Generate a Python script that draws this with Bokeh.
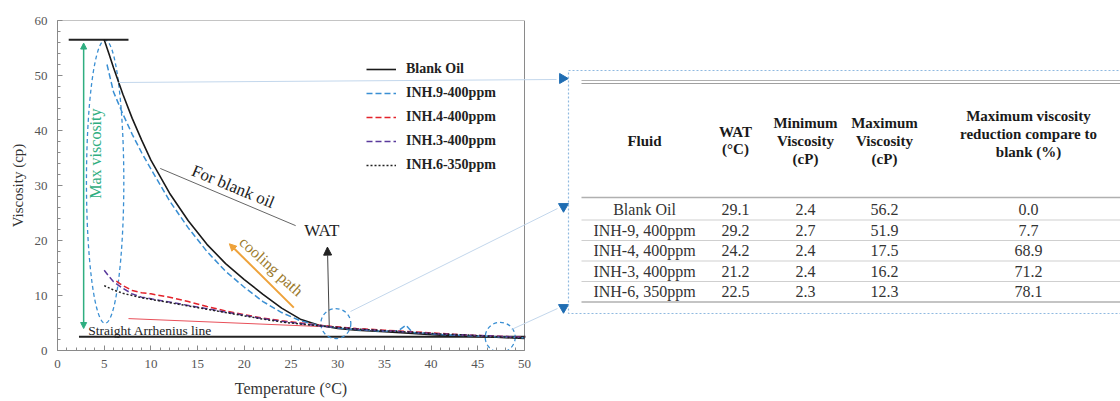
from bokeh.plotting import figure
from bokeh.models import Range1d, LinearAxis, FixedTicker, Legend, LegendItem, Arrow, NormalHead
from bokeh.core.properties import value
from bokeh.embed import file_html
from bokeh.resources import INLINE

SERIF = "Liberation Serif"

# ---------------- curve data ----------------
blank_t = [5, 5.5, 6, 7, 8, 9, 10, 12, 14, 16, 18, 20, 22, 24, 26, 28, 30, 32, 35, 38, 41, 44, 47, 50]
blank_v = [56.5, 54.0, 51.4, 46.6, 42.2, 38.3, 34.6, 28.6, 23.6, 19.3, 15.8, 12.9, 10.2, 7.7, 5.7, 4.6, 4.0, 3.7, 3.4, 3.1, 2.8, 2.6, 2.4, 2.2]

inh9_t = [5.3, 6, 7, 8, 9, 10, 12, 14, 16, 18, 20, 22, 24, 26, 28, 30, 32, 35, 36.5, 37.3, 38, 41, 44, 47, 50]
inh9_v = [52.0, 47.0, 43.0, 39.3, 36.0, 33.0, 27.2, 22.3, 18.0, 14.4, 11.5, 8.9, 6.9, 5.4, 4.5, 4.1, 3.8, 3.5, 3.6, 4.6, 3.3, 2.9, 2.7, 2.5, 2.3]

inh4_t = [6.3, 7, 8, 9, 10, 12, 14, 16, 18, 20, 22, 24, 26, 28, 30, 32, 35, 38, 41, 44, 47, 50]
inh4_v = [12.6, 11.8, 10.9, 10.5, 10.3, 9.7, 8.9, 8.0, 7.2, 6.5, 5.9, 5.4, 5.0, 4.6, 4.3, 4.0, 3.7, 3.4, 3.1, 2.8, 2.6, 2.4]

inh3_t = [5, 5.5, 6, 7, 8, 9, 10, 12, 14, 16, 18, 20, 22, 24, 26, 28, 30, 32, 35, 38, 41, 44, 47, 50]
inh3_v = [14.6, 13.5, 12.5, 11.3, 10.3, 9.7, 9.4, 8.8, 8.2, 7.6, 7.0, 6.4, 5.8, 5.3, 4.9, 4.5, 4.2, 3.9, 3.6, 3.3, 3.0, 2.8, 2.6, 2.4]

inh6_t = [5, 6, 7, 8, 9, 10, 12, 14, 16, 18, 20, 22, 24, 26, 28, 30, 32, 35, 38, 41, 44, 47, 50]
inh6_v = [11.8, 11.0, 10.4, 10.0, 9.6, 9.3, 8.7, 8.1, 7.5, 6.9, 6.3, 5.7, 5.2, 4.8, 4.5, 4.2, 3.9, 3.6, 3.3, 3.0, 2.8, 2.5, 2.3]

series_names = ["Blank Oil", "INH.9-400ppm", "INH.4-400ppm", "INH.3-400ppm", "INH.6-350ppm"]

x_ticks = [0, 5, 10, 15, 20, 25, 30, 35, 40, 45, 50]
y_ticks = [0, 10, 20, 30, 40, 50, 60]

# annotation values
max_visc_level = 56.5
arrhenius_level = 2.5

# ---------------- table data ----------------
tbl_fluid = ["Blank Oil", "INH-9, 400ppm", "INH-4, 400ppm", "INH-3, 400ppm", "INH-6, 350ppm"]
tbl_wat = [29.1, 29.2, 24.2, 21.2, 22.5]
tbl_min = [2.4, 2.7, 2.4, 2.4, 2.3]
tbl_max = [56.2, 51.9, 17.5, 16.2, 12.3]
tbl_red = [0.0, 7.7, 68.9, 71.2, 78.1]
tbl_headers = [["Fluid"], ["WAT", "(°C)"], ["Minimum", "Viscosity", "(cP)"],
               ["Maximum", "Viscosity", "(cP)"],
               ["Maximum viscosity", "reduction compare to", "blank (%)"]]

# ---------------- layout ----------------
W, H = 1120, 400
FL, FR, FT, FB = 57, 1120, 20, 350          # frame in page pixels
X50 = 524                                    # page x of temperature 50
x_end = 50.0 * (FR - FL) / (X50 - FL)

p = figure(width=W, height=H, x_range=Range1d(0, x_end), y_range=Range1d(0, 60),
           output_backend="svg", toolbar_location=None,
           min_border_left=FL, min_border_right=0, min_border_top=FT,
           min_border_bottom=H - FB)
p.outline_line_color = None
p.grid.visible = False
p.background_fill_color = "white"
p.extra_x_ranges = {"px": Range1d(FL, FR)}
p.extra_y_ranges = {"px": Range1d(FB, FT)}

AX = "#8a8a8a"
xa = p.xaxis[0]
xa.ticker = FixedTicker(ticks=x_ticks, minor_ticks=list(range(0, 51)))
xa.bounds = (0, 50)
ya = p.yaxis[0]
ya.ticker = FixedTicker(ticks=y_ticks, minor_ticks=list(range(0, 61, 2)))
ya.bounds = (0, 60)
for ax in (xa, ya):
    ax.axis_line_color = AX
    ax.major_tick_line_color = AX
    ax.minor_tick_line_color = AX
    ax.major_tick_in = 5
    ax.major_tick_out = 0
    ax.minor_tick_in = 3
    ax.minor_tick_out = 0
    ax.major_label_text_font = SERIF
    ax.major_label_text_font_size = "13px"
    ax.major_label_text_color = "#555555"
xa.major_label_standoff = 9
ya.major_label_standoff = 10
ya.axis_label = "Viscosity (cp)"
ya.axis_label_text_font = SERIF
ya.axis_label_text_font_style = "normal"
ya.axis_label_text_font_size = "15px"
ya.axis_label_text_color = "#333333"
ya.axis_label_standoff = 6

title_axis = LinearAxis(ticker=FixedTicker(ticks=[25], minor_ticks=[]),
                        major_label_overrides={25: "Temperature (°C)"},
                        axis_line_color=None, major_tick_line_color=None,
                        minor_tick_line_color=None, major_label_standoff=3,
                        major_label_text_font=SERIF, major_label_text_font_size="16px",
                        major_label_text_color="#333333")
p.add_layout(title_axis, "below")

# chart frame
p.quad(left=[0], right=[50], bottom=[0], top=[60], fill_color=None, line_color=AX, line_width=1)

# ---------------- annotations in the chart ----------------
BLUE = "#3a8fd3"
GREEN = "#2fae80"
p.ellipse(x=[5.1], y=[30.7], width=[4.0], height=[51.5], fill_color=None,
          line_color=BLUE, line_dash="4 3", line_width=1.3)
p.line(x=[1.2, 7.6], y=[max_visc_level] * 2, line_color="#222222", line_width=2)
p.line(x=[2.3, 50.1], y=[arrhenius_level] * 2, line_color="#222222", line_width=2)
p.line(x=[7.6, 29.0], y=[5.8, 4.3], line_color="#e8505a", line_width=1)
p.add_layout(Arrow(x_start=2.8, y_start=4.0, x_end=2.8, y_end=55.9,
                   line_color=GREEN, line_width=1.5,
                   start=NormalHead(size=6, fill_color=GREEN, line_color=GREEN),
                   end=NormalHead(size=6, fill_color=GREEN, line_color=GREEN)))
p.text(x=[4.1], y=[35.8], text=["Max viscosity"], angle=[1.5708], text_align="center",
       text_baseline="middle", text_font=value(SERIF), text_font_size="16px", text_color=GREEN)
p.text(x=[3.3], y=[3.6], text=["Straight Arrhenius line"], text_align="left",
       text_baseline="middle", text_font=value(SERIF), text_font_size="13.5px", text_color="#222222")

# For blank oil
p.line(x=[11.0, 25.5], y=[33.1, 22.7], line_color="#666666", line_width=1)
p.text(x=[18.8], y=[29.8], text=["For blank oil"], angle=[-0.39], text_align="center",
       text_baseline="middle", text_font=value(SERIF), text_font_size="17px", text_color="#222222")
p.text(x=[28.3], y=[21.8], text=["WAT"], text_align="center", text_baseline="middle",
       text_font=value(SERIF), text_font_size="17px", text_color="#222222")
p.add_layout(Arrow(x_start=29.1, y_start=4.2, x_end=28.9, y_end=18.8, line_color="#444444",
                   line_width=1, end=NormalHead(size=8, fill_color="#222222", line_color="#222222")))

# cooling path
ORANGE = "#eea23a"
p.add_layout(Arrow(x_start=25.3, y_start=7.8, x_end=18.4, y_end=19.4, line_color=ORANGE,
                   line_width=2, end=NormalHead(size=7, fill_color=ORANGE, line_color=ORANGE)))
p.text(x=[22.9], y=[15.3], text=["cooling path"], angle=[-0.74], text_align="center",
       text_baseline="middle", text_font=value(SERIF), text_font_size="16px", text_color="#9c7a2c")

# circles
p.scatter(x=[29.8, 47.4], y=[4.9, 2.4], marker="circle", size=30, fill_color=None,
          line_color=BLUE, line_dash="4 3", line_width=1.3)

# ---------------- curves ----------------
r_blank = p.line(blank_t, blank_v, line_color="#1a1a1a", line_width=1.6)
r_9 = p.line(inh9_t, inh9_v, line_color=BLUE, line_width=1.5, line_dash="6 3")
r_4 = p.line(inh4_t, inh4_v, line_color="#e3232b", line_width=1.5, line_dash="6 3")
r_3 = p.line(inh3_t, inh3_v, line_color="#5a3a9c", line_width=1.5, line_dash="6 3")
r_6 = p.line(inh6_t, inh6_v, line_color="#222222", line_width=1.5, line_dash="2 2")

legend = Legend(items=[LegendItem(label=n, renderers=[r]) for n, r in
                       zip(series_names, [r_blank, r_9, r_4, r_3, r_6])],
                location=(309, 175), orientation="vertical",
                label_text_font=SERIF, label_text_font_style="bold", label_text_font_size="14px",
                label_text_color="#222222", glyph_width=30, glyph_height=20, label_height=20,
                spacing=4, padding=0, margin=0, label_standoff=10,
                border_line_color=None, background_fill_alpha=0)
p.add_layout(legend)

# ---------------- table (page-pixel coordinates) ----------------
PX = dict(x_range_name="px", y_range_name="px")
CONN = "#c3d7ec"
p.line(x=[118, 556], y=[82, 79], line_color=CONN, line_width=1, **PX)
p.line(x=[350, 557], y=[311, 208], line_color=CONN, line_width=1, **PX)
p.line(x=[511, 557], y=[329, 308], line_color=CONN, line_width=1, **PX)
TRI = "#1f6db3"
p.scatter(x=[562], y=[78], marker="triangle", angle=-1.5708, size=10, fill_color=TRI, line_color=TRI, **PX)
p.scatter(x=[563, 563], y=[206, 307], marker="inverted_triangle", size=10, fill_color=TRI, line_color=TRI, **PX)
BOX = "#8fb9e0"
p.line(x=[1130, 568, 568, 1130], y=[70, 70, 313, 313], line_color=BOX, line_dash="2 2", line_width=1.2, **PX)

TL = 581
p.line(x=[TL, 1130], y=[80, 80], line_color="#b0b0b0", line_width=1, **PX)
p.line(x=[TL, 1130], y=[83, 83], line_color="#a0a0a0", line_width=1.2, **PX)
p.line(x=[TL, 1130], y=[197, 197], line_color="#b0b0b0", line_width=1.5, **PX)
row_y = [209, 229.5, 250, 270.5, 291]
for yy in [219.5, 240, 260.5, 281]:
    p.line(x=[TL, 1130], y=[yy, yy], line_color="#cfcfcf", line_width=1, **PX)
p.line(x=[TL, 1130], y=[301.5, 301.5], line_color="#b0b0b0", line_width=1.5, **PX)

col_x = [644, 735, 805, 884, 1028]
hdr_y = {1: [140], 2: [131, 148], 3: [122, 140, 158]}
hdr_y5 = [115, 133, 151]
for i, lines in enumerate(tbl_headers):
    ys = hdr_y5 if i == 4 else hdr_y[len(lines)]
    p.text(x=[col_x[i]] * len(lines), y=ys, text=lines, text_align="center", text_baseline="middle",
           text_font=value(SERIF), text_font_style="bold", text_font_size="15px",
           text_color="#1a1a1a", **PX)

cols = [tbl_fluid,
        [f"{v:.1f}" for v in tbl_wat],
        [f"{v:.1f}" for v in tbl_min],
        [f"{v:.1f}" for v in tbl_max],
        [f"{v:.1f}" for v in tbl_red]]
for cx, texts in zip(col_x, cols):
    p.text(x=[cx] * len(texts), y=row_y, text=texts, text_align="center", text_baseline="middle",
           text_font=value(SERIF), text_font_size="16px", text_color="#333333", **PX)

open("out.html", "w").write(file_html(p, INLINE))
